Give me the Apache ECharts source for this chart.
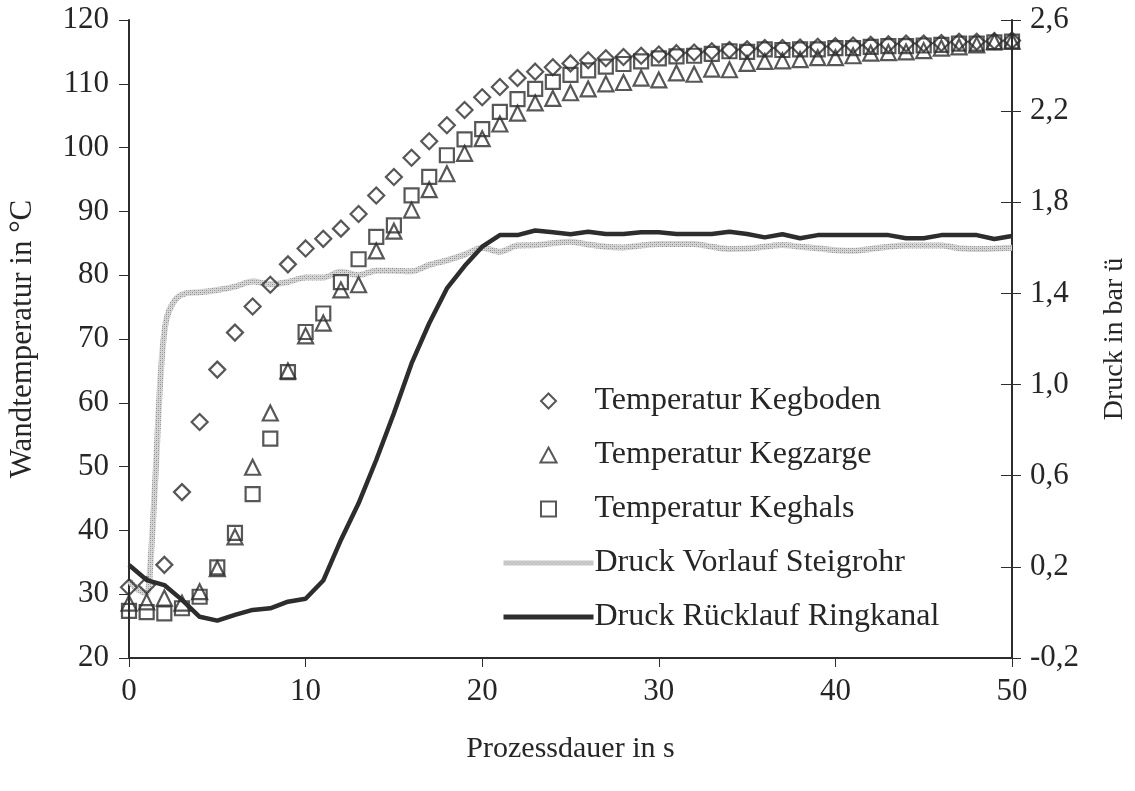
<!DOCTYPE html>
<html>
<head>
<meta charset="utf-8">
<script src="https://cdn.jsdelivr.net/npm/echarts@6/dist/echarts.min.js"></script>
<style>
  html, body { margin: 0; padding: 0; background: #fff; }
  #chart { width: 1135px; height: 791px; }
</style>
</head>
<body>
<div id="chart"></div>
<script>
// Process time in seconds (one temperature reading per second)
const timeS = [0,1,2,3,4,5,6,7,8,9,10,11,12,13,14,15,16,17,18,19,20,21,22,23,24,25,26,27,28,29,30,31,32,33,34,35,36,37,38,39,40,41,42,43,44,45,46,47,48,49,50];

// Wall temperatures in °C
const tempKegboden = [31.1,31.4,34.6,46.0,57.0,65.2,71.0,75.1,78.5,81.7,84.2,85.7,87.3,89.6,92.5,95.4,98.4,101.0,103.5,105.9,107.9,109.5,110.9,111.9,112.6,113.2,113.7,114.0,114.2,114.4,114.6,114.8,114.9,115.1,115.3,115.4,115.6,115.6,115.7,115.8,115.9,116.0,116.1,116.2,116.3,116.3,116.4,116.6,116.6,116.7,116.8];
const tempKegzarge = [28.6,28.8,29.4,28.6,30.4,34.0,39.0,49.9,58.4,65.0,70.5,72.5,77.7,78.5,83.8,86.9,90.2,93.4,95.9,99.1,101.4,103.7,105.4,107.0,107.7,108.6,109.2,110.0,110.2,110.9,110.6,111.7,111.5,112.3,112.2,113.2,113.5,113.6,113.8,114.1,114.1,114.4,114.8,114.9,115.0,115.2,115.6,115.8,116.1,116.6,116.7];
const tempKeghals = [27.4,27.2,27.0,27.8,29.6,34.2,39.6,45.7,54.4,64.8,71.1,74.0,78.9,82.5,86.0,87.8,92.5,95.4,98.8,101.3,102.9,105.6,107.6,109.2,110.3,111.4,112.1,112.7,113.1,113.5,114.0,114.3,114.4,114.7,115.1,115.0,115.4,115.3,115.4,115.4,115.6,115.6,115.8,115.9,115.9,116.0,116.1,116.3,116.3,116.5,116.6];

// Return-line pressure (Ringkanal) in bar gauge, one value per second
const druckRuecklauf = [0.208,0.142,0.120,0.055,-0.019,-0.036,-0.011,0.011,0.018,0.047,0.060,0.140,0.318,0.479,0.669,0.874,1.093,1.269,1.422,1.520,1.605,1.656,1.656,1.676,1.668,1.660,1.671,1.661,1.661,1.668,1.668,1.661,1.661,1.661,1.671,1.661,1.646,1.660,1.642,1.656,1.656,1.656,1.656,1.656,1.642,1.642,1.656,1.656,1.656,1.639,1.652];

// Feed pressure (Steigrohr): denser samples during the fast rise
const vorlaufT = [0,0.5,1,1.2,1.5,1.8,2.1,2.6,3.2,4,5,6,7,8,9,10,11,12,13,14,15,16,17,18,19,20,21,22,23,24,25,26,27,28,29,30,31,32,33,34,35,36,37,38,39,40,41,42,43,44,45,46,47,48,49,50];
const druckVorlauf = [0.14,0.10,0.085,0.20,0.60,1.05,1.28,1.37,1.40,1.405,1.415,1.43,1.452,1.44,1.45,1.47,1.47,1.495,1.48,1.50,1.50,1.497,1.525,1.545,1.57,1.60,1.583,1.61,1.612,1.62,1.627,1.615,1.605,1.602,1.61,1.617,1.617,1.617,1.605,1.595,1.597,1.605,1.612,1.605,1.598,1.59,1.587,1.595,1.605,1.61,1.61,1.61,1.598,1.595,1.597,1.60];

const xTicks = { min: 0, max: 50, interval: 10 };
const tempTicks = { min: 20, max: 120, interval: 10 };
const druckTicks = { min: -0.2, max: 2.6, interval: 0.4 };

const FONT = "'Liberation Serif', 'Times New Roman', serif";
const INK = '#2d2d2d';
const TXT = '#262626';
const TICK_FS = 31;

const pairs = (xs, ys) => xs.map((x, i) => [x, ys[i]]);

// fine checkered grey used for the feed-pressure line
function checkerPattern() {
  const c = document.createElement('canvas');
  c.width = 4; c.height = 4;
  const g = c.getContext('2d');
  g.fillStyle = '#d4d4d4';
  g.fillRect(0, 0, 4, 4);
  g.fillStyle = '#8f8f8f';
  g.fillRect(0, 0, 1, 1); g.fillRect(2, 2, 1, 1);
  g.fillStyle = '#b0b0b0';
  g.fillRect(2, 0, 1, 1); g.fillRect(0, 2, 1, 1);
  return c;
}
const GREY_LINE = { image: checkerPattern(), repeat: 'repeat' };

// legend glyphs kept square inside the wide legend slot
const ICON_DIAMOND = 'path://M7,0 L14,7 L7,14 L0,7 Z';
const ICON_TRIANGLE = 'path://M7,0 L14,13 L0,13 Z';
const ICON_SQUARE = 'path://M0,0 L13,0 L13,13 L0,13 Z';

const chart = echarts.init(document.getElementById('chart'), null, { renderer: 'canvas' });

const hollow = { color: 'rgba(255,255,255,0)', borderColor: INK, borderWidth: 2.2 };
const noMarker = { opacity: 0 };

chart.setOption({
  backgroundColor: '#ffffff',
  animation: false,
  textStyle: { fontFamily: FONT, color: TXT },
  grid: { left: 129, right: 123, top: 20, bottom: 133, containLabel: false, outerBoundsMode: 'none' },
  legend: {
    orient: 'vertical',
    left: 496,
    top: 379,
    itemWidth: 90,
    itemHeight: 15,
    itemGap: 20,
    symbolKeepAspect: true,
    textStyle: { fontFamily: FONT, fontSize: 32, color: TXT, lineHeight: 34, padding: [0, 0, 0, -4] },
    data: [
      { name: 'Temperatur Kegboden', icon: ICON_DIAMOND },
      { name: 'Temperatur Kegzarge', icon: ICON_TRIANGLE },
      { name: 'Temperatur Keghals', icon: ICON_SQUARE },
      { name: 'Druck Vorlauf Steigrohr', itemStyle: noMarker, lineStyle: { width: 5 } },
      { name: 'Druck Rücklauf Ringkanal', itemStyle: noMarker, lineStyle: { width: 5 } }
    ]
  },
  xAxis: {
    type: 'value',
    min: xTicks.min, max: xTicks.max, interval: xTicks.interval,
    name: 'Prozessdauer in s',
    nameLocation: 'middle',
    nameGap: 76,
    nameTextStyle: { fontFamily: FONT, fontSize: 30, color: TXT },
    axisLine: { onZero: false, lineStyle: { color: INK, width: 2 } },
    axisTick: { show: true, inside: false, length: 9, lineStyle: { color: INK, width: 1 } },
    axisLabel: { fontFamily: FONT, fontSize: TICK_FS, color: TXT, margin: 18 },
    splitLine: { show: false }
  },
  yAxis: [
    {
      type: 'value',
      position: 'left',
      min: tempTicks.min, max: tempTicks.max, interval: tempTicks.interval,
      name: 'Wandtemperatur in °C',
      nameLocation: 'middle',
      nameGap: 91,
      nameRotate: 90,
      nameTextStyle: { fontFamily: FONT, fontSize: 31, color: TXT },
      axisLine: { show: true, onZero: false, lineStyle: { color: INK, width: 2 } },
      axisTick: { show: true, inside: false, length: 10, lineStyle: { color: INK, width: 1 } },
      axisLabel: { fontFamily: FONT, fontSize: TICK_FS, color: TXT, margin: 20 },
      splitLine: { show: false }
    },
    {
      type: 'value',
      position: 'right',
      min: druckTicks.min, max: druckTicks.max, interval: druckTicks.interval,
      name: 'Druck in bar ü',
      nameLocation: 'middle',
      nameGap: 89,
      nameRotate: 90,
      nameTextStyle: { fontFamily: FONT, fontSize: 28, color: TXT },
      axisLine: { show: true, onZero: false, lineStyle: { color: INK, width: 2 } },
      axisTick: { show: true, inside: false, length: 9, lineStyle: { color: INK, width: 1 } },
      axisLabel: {
        fontFamily: FONT, fontSize: TICK_FS, color: TXT, margin: 18,
        formatter: v => v.toFixed(1).replace('.', ',')
      },
      splitLine: { show: false }
    },
    {
      // inner half of the crossing ticks on the pressure axis
      type: 'value',
      position: 'right',
      min: druckTicks.min, max: druckTicks.max, interval: druckTicks.interval,
      axisLine: { show: false, onZero: false },
      axisTick: { show: true, inside: true, length: 11, lineStyle: { color: INK, width: 1 } },
      axisLabel: { show: false },
      splitLine: { show: false }
    }
  ],
  series: [
    {
      name: 'Druck Vorlauf Steigrohr',
      type: 'line',
      yAxisIndex: 1,
      data: pairs(vorlaufT, druckVorlauf),
      showSymbol: false,
      symbol: 'none',
      smooth: 0.3,
      lineStyle: { color: GREY_LINE, width: 6 },
      itemStyle: { color: '#b4b4b4' },
      z: 2
    },
    {
      name: 'Druck Rücklauf Ringkanal',
      type: 'line',
      yAxisIndex: 1,
      data: pairs(timeS, druckRuecklauf),
      showSymbol: false,
      symbol: 'none',
      lineStyle: { color: INK, width: 4.5 },
      itemStyle: { color: INK },
      z: 3
    },
    {
      name: 'Temperatur Kegboden',
      type: 'scatter',
      yAxisIndex: 0,
      data: pairs(timeS, tempKegboden),
      symbol: 'diamond',
      symbolSize: 16,
      itemStyle: hollow,
      z: 4
    },
    {
      name: 'Temperatur Kegzarge',
      type: 'scatter',
      yAxisIndex: 0,
      data: pairs(timeS, tempKegzarge),
      symbol: 'triangle',
      symbolSize: 15,
      itemStyle: hollow,
      z: 4
    },
    {
      name: 'Temperatur Keghals',
      type: 'scatter',
      yAxisIndex: 0,
      data: pairs(timeS, tempKeghals),
      symbol: 'rect',
      symbolSize: 14,
      itemStyle: hollow,
      z: 4
    }
  ]
});
</script>
</body>
</html>
